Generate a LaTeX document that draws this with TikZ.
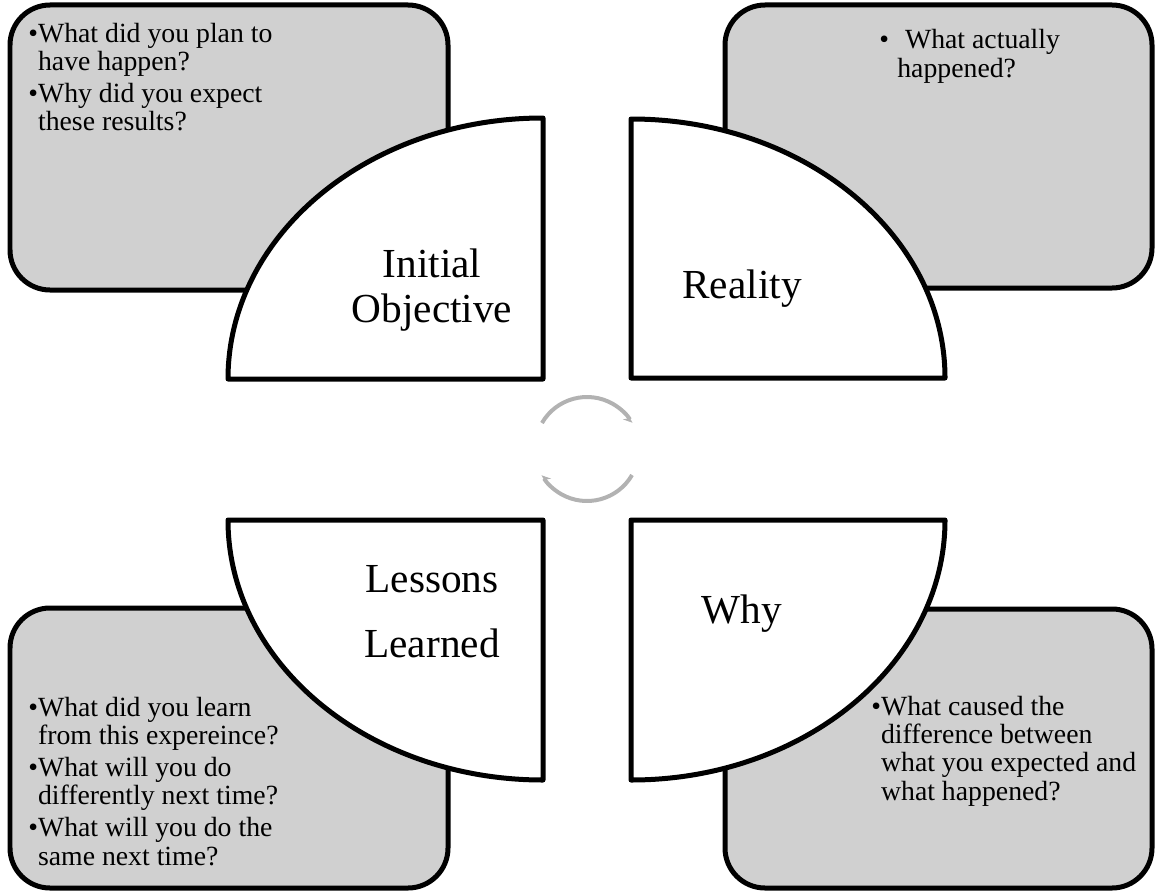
\documentclass[tikz,border=0pt]{standalone}
\usepackage{fontspec}
\setmainfont{Liberation Serif}
\usetikzlibrary{arrows.meta}
\definecolor{boxgray}{RGB}{208,208,208}
\definecolor{cyclegray}{RGB}{178,178,178}
\tikzset{
	infobox/.style={draw=black, fill=boxgray, line width=0.1cm, rounded corners=0.8cm},
	petal/.style={draw=black, fill=white, line width=0.1cm, line join=round},
	questions/.style={align=left, anchor=base west, inner sep=0pt, font=\fontsize{15.8}{16}\selectfont},
	title/.style={align=center, anchor=base, inner sep=0pt, font=\fontsize{23.5}{25.6}\selectfont},
	cyclearrow/.style={draw=cyclegray, line width=0.08cm, -{Stealth[harpoon, swap, length=4pt, width=7pt]}}
}
\def\nobullet{\phantom{\textbullet}}

\begin{document}
\begin{tikzpicture}[x=0.02cm, y=-0.02cm]
		%%%%% START %%%%%
		\useasboundingbox (0,0) rectangle (1155,892);
		
		\draw[infobox] (10,5) rectangle (448,290);
		\draw[infobox] (725,5) rectangle (1152,288);
		\draw[infobox] (10,608) rectangle (448,888);
		\draw[infobox] (725,609) rectangle (1152,888);
		
		\draw[petal] (543,379) -- (228,379) arc[start angle=180, end angle=270, x radius=315, y radius=261] -- cycle;
		\draw[petal] (631,378) -- (631,119) arc[start angle=270, end angle=360, x radius=314, y radius=259] -- cycle;
		\draw[petal] (228,520) -- (543,520) -- (543,780) arc[start angle=90, end angle=180, x radius=315, y radius=260] -- cycle;
		\draw[petal] (631,520) -- (945,520) arc[start angle=0, end angle=90, x radius=314, y radius=260] -- cycle;
		
		% base anchor sits on the last line
		\node[title] (objective) at (432,322) {Initial\\Objective};
		\node[title] (reality) at (742,298) {Reality};
		\node[title] (lessons) at (432,657) {Lessons\\[11pt]Learned};
		\node[title] (why) at (742,623) {Why};
		
		\node[questions] (planq) at (28,131) {\textbullet What did you plan to\\\nobullet have happen?\\[2.3pt]\textbullet Why did you expect\\\nobullet these results?};
		\node[questions] (realq) at (879,77) {\textbullet\hspace{0.32cm}What actually\\\hspace{0.36cm}happened?};
		\node[questions] (learnq) at (28,865) {\textbullet What did you learn\\\nobullet from this expereince?\\[2.3pt]\textbullet What will you do\\\nobullet differently next time?\\[2.3pt]\textbullet What will you do the\\\nobullet same next time?};
		\node[questions] (whyq) at (871,800) {\textbullet What caused the\\\nobullet difference between\\\nobullet what you expected and\\\nobullet what happened?};
		
		\coordinate (hub) at (587,449);
		\draw[cyclearrow] (hub) ++(210:52) arc[start angle=210, end angle=330, radius=52];
		\draw[cyclearrow] (hub) ++(30:52) arc[start angle=30, end angle=150, radius=52];
		
		%%%%% END %%%%%
\end{tikzpicture}
\end{document}
